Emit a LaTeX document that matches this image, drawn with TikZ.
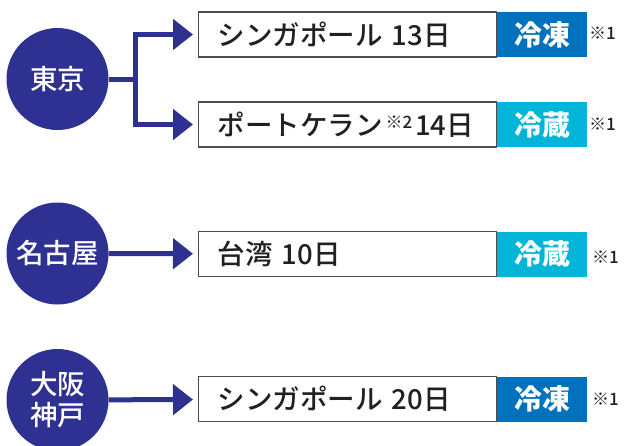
\documentclass[tikz,border=0pt]{standalone}
\usepackage{fontspec}
\setmainfont{Noto Sans CJK JP}
\newfontfamily\jpmed{Noto Sans CJK JP Medium}
\usetikzlibrary{arrows.meta}
\definecolor{navy}{RGB}{46,49,146}
\definecolor{frozen}{RGB}{0,113,188}
\definecolor{chilled}{RGB}{0,181,216}
\definecolor{boxgray}{RGB}{77,77,77}
\definecolor{textdark}{RGB}{35,31,32}
\begin{document}
\begin{tikzpicture}[x=1pt,y=-1pt,
  city/.style={circle, fill=navy, minimum size=102pt, inner sep=0pt, text=white,
    font=\jpmed\fontsize{27.5}{31}\selectfont, align=center},
  dest/.style={draw=boxgray, line width=1.2pt, fill=white, minimum height=45pt,
    text width=260pt, inner xsep=19pt, inner ysep=0pt, align=left, anchor=west,
    font=\jpmed\fontsize{27.5}{30}\selectfont, text=textdark},
  tag/.style={minimum width=90pt, minimum height=45pt, inner sep=0pt, anchor=west,
    text=white, font=\fontsize{28}{30}\selectfont\bfseries},
  note/.style={anchor=west, inner sep=0pt, font=\jpmed\fontsize{17}{18}\selectfont, text=textdark},
  link/.style={draw=navy, line width=5pt, line join=miter,
    -{Triangle[length=20pt,width=30pt]}, shorten >=5pt}
]
\useasboundingbox (0,0) rectangle (624,445);

% cities
\node[city] (c1) at (57.5,79) {東京};
\node[city] (c2) at (57.5,253.5) {名古屋};
\node[city] (c3) at (57.5,400) {大阪\\神戸};

% destinations
\node[dest] (b1) at (198,34.5) {シンガポール 13日};
\node[dest] (b2) at (198,124.5) {ポートケラン\hspace{3pt}{\fontsize{17}{17}\selectfont\raisebox{7pt}{※2}}\hspace{3pt}14日};
\node[dest] (b3) at (198,254) {台湾 10日};
\node[dest] (b4) at (198,399) {シンガポール 20日};

% tags
\node[tag, fill=frozen] (t1) at (b1.east) {冷凍};
\node[tag, fill=chilled] (t2) at (b2.east) {冷蔵};
\node[tag, fill=chilled] (t3) at (b3.east) {冷蔵};
\node[tag, fill=frozen] (t4) at (b4.east) {冷凍};

% notes
\node[note] (n1) at (589,33.5) {※1};
\node[note] (n2) at (589,124) {※1};
\node[note] (n3) at (592,257) {※1};
\node[note] (n4) at (592,399) {※1};

% connectors
\coordinate (j) at (135,79.5);
\draw[link] (c1.east |- j) -- (j) |- (b1.west);
\draw[link] (c1.east |- j) -- (j) |- (b2.west);
\draw[link] (c2) -- (b3);
\draw[link] (c3) -- (b4);
\end{tikzpicture}
\end{document}
